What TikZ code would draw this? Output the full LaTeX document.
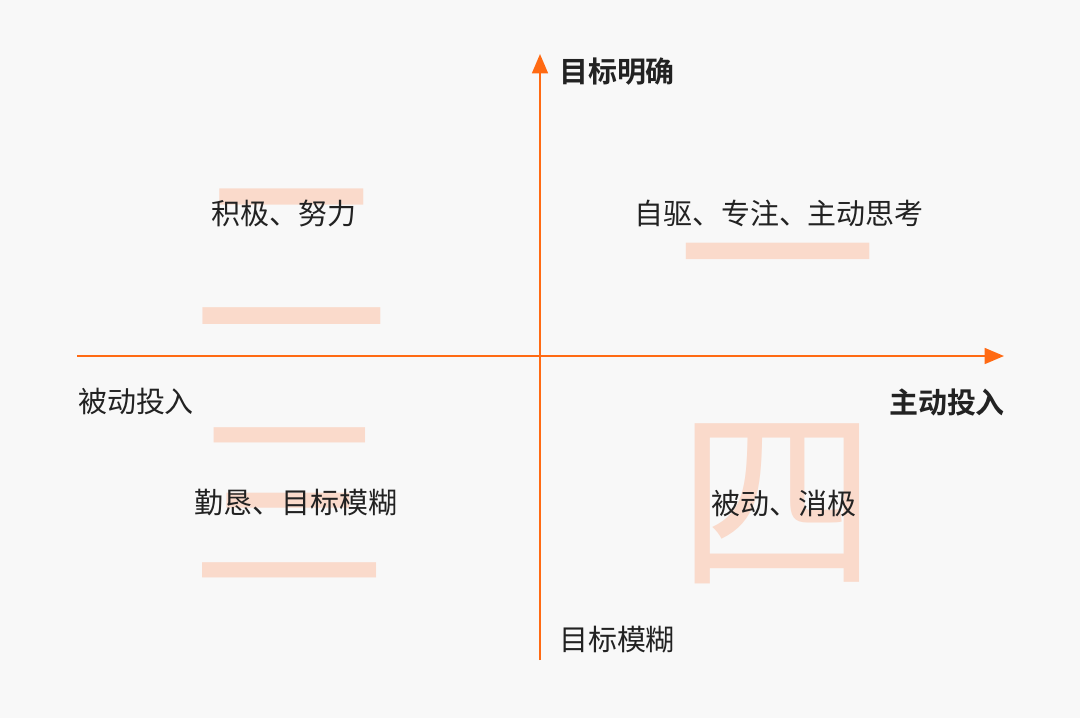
\documentclass[tikz,border=0pt]{standalone}
\usepackage{fontspec}
\newfontfamily\cjk{Noto Sans CJK SC}
\newfontfamily\cjkb{Noto Sans CJK SC Bold}
\usetikzlibrary{arrows.meta}
\definecolor{axis}{HTML}{FF6A13}
\definecolor{peach}{HTML}{FADACB}
\definecolor{bg}{HTML}{F8F8F8}
\definecolor{txt}{HTML}{222222}
\tikzset{
  big/.style={font=\cjk\fontsize{114}{114}\selectfont, text=peach, inner sep=0pt},
  lab/.style={font=\cjk\fontsize{16.5}{18}\selectfont, text=txt, inner sep=0pt},
  blab/.style={font=\cjkb\fontsize{16.5}{18}\selectfont, text=txt, inner sep=0pt},
  ax/.style={draw=axis, line width=1.2pt, -{Triangle[length=11pt,width=9pt]}}
}
\begin{document}
\begin{tikzpicture}[x=0.02cm,y=-0.02cm]
\fill[bg] (0,0) rectangle (1080,718);
\useasboundingbox (0,0) rectangle (1080,718);
\node[big] (n1) at (778,286) {一};
\node[big] (n2) at (292,259) {二};
\node[big] (n3) at (290,503) {三};
\node[big] (n4) at (778,504) {四};
\coordinate (xl) at (77,356);
\coordinate (xr) at (1004,356);
\coordinate (yb) at (540,660);
\coordinate (yt) at (540,54);
\draw[ax] (xl) -- (xr);
\draw[ax] (yb) -- (yt);
\node[blab] (t) at (617,72) {目标明确};
\node[blab] (r) at (947,402) {主动投入};
\node[lab] (l) at (136,402) {被动投入};
\node[lab] (b) at (617,640) {目标模糊};
\node[lab] (q2) at (284,213) {积极、努力};
\node[lab] (q1) at (779,213) {自驱、专注、主动思考};
\node[lab] (q3) at (296,503) {勤恳、目标模糊};
\node[lab] (q4) at (784,503) {被动、消极};
\end{tikzpicture}
\end{document}
